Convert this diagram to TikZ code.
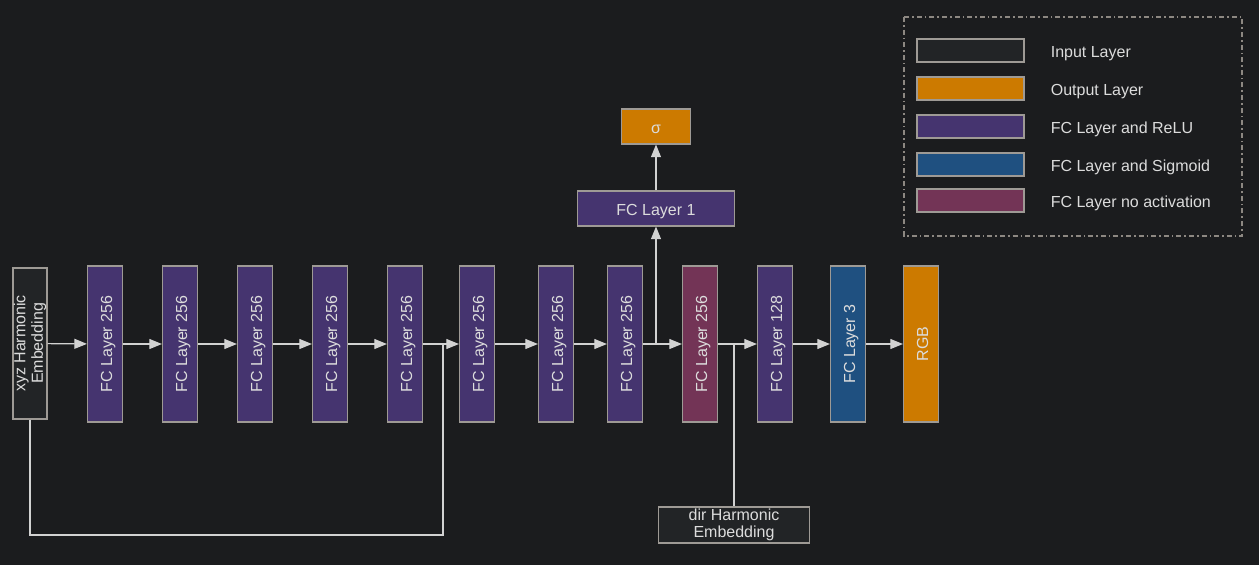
\documentclass[tikz,border=0pt]{standalone}
\usepackage{fontspec}
\setmainfont{Liberation Sans}
\usetikzlibrary{arrows.meta,positioning}
\definecolor{canvas}{HTML}{1B1C1E}
\definecolor{edgegray}{HTML}{9E9A95}
\definecolor{labelgray}{HTML}{DCDCDC}
\definecolor{wiregray}{HTML}{D2D2D2}
\definecolor{framegray}{HTML}{8D8882}
\definecolor{inputfill}{HTML}{222426}
\definecolor{relufill}{HTML}{45346F}
\definecolor{sigmoidfill}{HTML}{1F5080}
\definecolor{plainfill}{HTML}{733456}
\definecolor{outfill}{HTML}{CC7A00}

\begin{document}
\begin{tikzpicture}[x=0.75pt, y=-0.75pt, font=\fontsize{12}{13.2}\selectfont]
        \tikzstyle{oneline} = [text height=10.5pt, text depth=0pt]
        \tikzstyle{layer} = [rectangle, draw=edgegray, line width=0.8pt, rotate=90, minimum width=117pt, minimum height=26.25pt, inner sep=0pt, text=labelgray, align=center]
        \tikzstyle{fclayer} = [layer, oneline]
        \tikzstyle{block} = [rectangle, draw=edgegray, line width=0.8pt, minimum height=26.25pt, inner sep=0pt, text=labelgray, align=center]
        \tikzstyle{swatch} = [rectangle, draw=edgegray, line width=0.8pt, minimum width=80.25pt, minimum height=17.25pt, inner sep=0pt]
        \tikzstyle{caption} = [text=labelgray, inner sep=0pt, anchor=west, oneline]
        \tikzstyle{wire} = [draw=wiregray, line width=0.9pt]
        \tikzstyle{line} = [wire, -{Triangle[length=9.5pt, width=7.5pt]}]

        \fill [canvas] (0,0) rectangle (1259,565);
        \useasboundingbox (0,0) rectangle (1259,565);

        % main branch
        \node [layer, fill=inputfill, minimum width=113.25pt, minimum height=25.5pt] (xyz_embed) at (30,343.5) {xyz Harmonic\\Embedding};
        \node [fclayer, fill=relufill] (fc_1) at (105,344) {FC Layer 256};
        \node [fclayer, fill=relufill] (fc_2) at (180,344) {FC Layer 256};
        \node [fclayer, fill=relufill] (fc_3) at (255,344) {FC Layer 256};
        \node [fclayer, fill=relufill] (fc_4) at (330,344) {FC Layer 256};
        \node [fclayer, fill=relufill] (fc_5) at (405,344) {FC Layer 256};
        \node [fclayer, fill=relufill] (fc_6) at (477,344) {FC Layer 256};
        \node [fclayer, fill=relufill] (fc_7) at (556,344) {FC Layer 256};
        \node [fclayer, fill=relufill] (fc_8) at (625,344) {FC Layer 256};
        \node [fclayer, fill=plainfill] (fc_9) at (700,344) {FC Layer 256};
        \node [fclayer, fill=relufill] (fc_10) at (775,344) {FC Layer 128};
        \node [fclayer, fill=sigmoidfill] (fc_rgb) at (848,344) {FC Layer 3};
        \node [fclayer, fill=outfill] (rgb_out) at (921,344) {RGB};

        % density head and view direction input
        \node [block, oneline, fill=relufill, minimum width=117.75pt] (fc_density) at (656,208.5) {FC Layer 1};
        \node [block, oneline, fill=outfill, minimum width=51.75pt] (sigma_out) at (656,126.5) {σ};
        \node [block, fill=inputfill, minimum width=113.25pt, minimum height=27pt] (dir_embed) at (734,525) {dir Harmonic\\Embedding};

        \coordinate (skip_turn) at (443,535);
        \coordinate (skip_join) at (443,344);
        \coordinate (density_join) at (656,344);
        \coordinate (dir_join) at (734,344);

        \path [line] (xyz_embed) -- (fc_1);
        \path [line] (fc_1) -- (fc_2);
        \path [line] (fc_2) -- (fc_3);
        \path [line] (fc_3) -- (fc_4);
        \path [line] (fc_4) -- (fc_5);
        \path [line] (fc_5) -- (fc_6);
        \path [line] (fc_6) -- (fc_7);
        \path [line] (fc_7) -- (fc_8);
        \path [line] (fc_8) -- (fc_9);
        \path [line] (fc_9) -- (fc_10);
        \path [line] (fc_10) -- (fc_rgb);
        \path [line] (fc_rgb) -- (rgb_out);
        \path [line] (density_join) -- (fc_density);
        \path [line] (fc_density) -- (sigma_out);
        \path [wire] (xyz_embed) |- (skip_turn) -- (skip_join);
        \path [wire] (dir_embed) -- (dir_join);

        % legend
        \draw [framegray, line width=1pt, dash pattern=on 3.75pt off 2.25pt on 1.2pt off 2.25pt] (904,17) rectangle (1242,236);
        \node [swatch, fill=inputfill] (legend_input) at (970.5,50.5) {};
        \node [swatch, fill=outfill] (legend_output) at (970.5,88.5) {};
        \node [swatch, fill=relufill] (legend_relu) at (970.5,126.5) {};
        \node [swatch, fill=sigmoidfill] (legend_sigmoid) at (970.5,164.5) {};
        \node [swatch, fill=plainfill] (legend_plain) at (970.5,200.5) {};
        \node [caption, right=19.5pt of legend_input] {Input Layer};
        \node [caption, right=19.5pt of legend_output] {Output Layer};
        \node [caption, right=19.5pt of legend_relu] {FC Layer and ReLU};
        \node [caption, right=19.5pt of legend_sigmoid] {FC Layer and Sigmoid};
        \node [caption, right=19.5pt of legend_plain] {FC Layer no activation};
    \end{tikzpicture}
\end{document}
